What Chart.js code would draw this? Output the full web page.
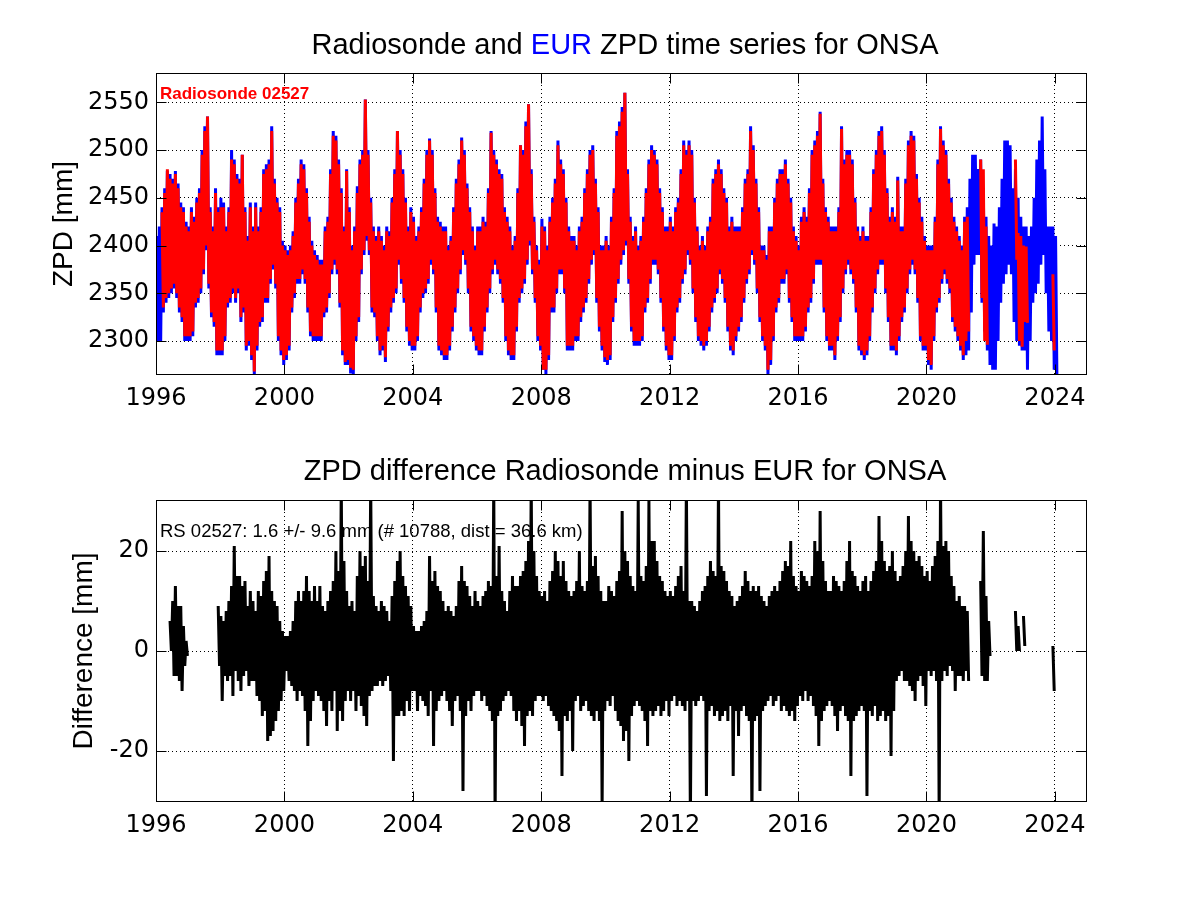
<!DOCTYPE html>
<html>
<head>
<meta charset="utf-8">
<title>ONSA ZPD</title>
<script src="https://cdn.jsdelivr.net/npm/chart.js@4.4.1/dist/chart.umd.min.js"></script>
<style>
  body { margin: 0; background: #fff; }
  #wrap { position: relative; width: 1201px; height: 901px; overflow: hidden; }
  canvas { position: absolute; left: 0; }
  #top { top: 0; }
  #bottom { top: 450px; }
  .ttl {
    position: absolute; left: 0; width: 1250px; text-align: center;
    font-family: "Liberation Sans", Arial, sans-serif; font-size: 29px;
    line-height: 1; color: #000; white-space: nowrap;
  }
</style>
</head>
<body>
<div id="wrap">
  <canvas id="top" width="1201" height="450"></canvas>
  <canvas id="bottom" width="1201" height="451"></canvas>
  <div class="ttl" style="top:30px">Radiosonde and <span style="color:#0000ff">EUR</span> ZPD time series for ONSA</div>
  <div class="ttl" style="top:456px">ZPD difference Radiosonde minus EUR for ONSA</div>
</div>
<script>
"use strict";
const N = null;

const firstYear = 1996; // first row = Jan 1996, one value per month
const xTicks = [1996, 2000, 2004, 2008, 2012, 2016, 2020, 2024];
const zpdTicks = [2300, 2350, 2400, 2450, 2500, 2550];
const diffTicks = [-20, 0, 20];

// EUR ZPD, monthly upper / lower envelope [mm]
const eurHi = [
  2410,2420,2440,2460,2478,2475,2470,2478,2465,2445,2440,2425, // 1996
  2420,2440,2430,2450,2460,2500,2525,2535,2440,2420,2460,2440,
  2450,2445,2420,2440,2500,2490,2475,2470,2495,2440,2410,2445,
  2420,2445,2420,2440,2480,2485,2490,2525,2470,2450,2440,2405,
  2400,2395,2400,2415,2450,2470,2490,2485,2460,2430,2405,2395, // 2000
  2390,2385,2385,2420,2430,2480,2520,2515,2490,2460,2420,2480,
  2440,2400,2420,2462,2490,2500,2553,2500,2450,2420,2410,2420,
  2410,2400,2420,2415,2450,2480,2520,2500,2480,2450,2420,2440,
  2430,2410,2420,2440,2470,2500,2512,2500,2460,2430,2425,2420, // 2004
  2420,2400,2410,2440,2470,2490,2513,2500,2465,2440,2420,2400,
  2420,2420,2430,2425,2460,2520,2500,2490,2480,2475,2440,2430,
  2420,2400,2410,2460,2505,2500,2530,2548,2480,2430,2400,2385,
  2428,2420,2400,2430,2450,2470,2510,2490,2480,2450,2420,2410, // 2008
  2410,2400,2420,2430,2460,2480,2500,2505,2470,2440,2400,2400,
  2410,2400,2430,2460,2520,2530,2545,2560,2480,2430,2410,2420,
  2400,2410,2430,2460,2490,2505,2500,2490,2460,2440,2420,2420,
  2430,2420,2440,2450,2480,2510,2500,2510,2500,2450,2420,2400, // 2012
  2410,2400,2420,2430,2470,2480,2490,2480,2460,2450,2420,2430,
  2420,2420,2420,2440,2470,2480,2525,2505,2470,2440,2400,2400,
  2390,2420,2420,2450,2470,2480,2480,2490,2470,2450,2420,2410,
  2400,2430,2440,2430,2460,2500,2510,2520,2540,2470,2440,2430, // 2016
  2420,2420,2420,2440,2525,2490,2500,2500,2490,2450,2420,2410,
  2420,2410,2410,2440,2480,2500,2520,2525,2500,2460,2430,2440,
  2430,2472,2420,2420,2470,2510,2520,2515,2475,2450,2430,2410,
  2400,2400,2400,2430,2490,2525,2510,2500,2470,2450,2430,2420, // 2020
  2410,2400,2430,2440,2470,2495,2495,2480,2490,2460,2430,2410,
  2400,2423,2420,2440,2470,2510,2510,2505,2460,2480,2450,2430,
  2420,2420,2410,2420,2450,2490,2510,2535,2480,2420,2420,2420,
  2410 // 2024
];
const eurLo = [
  2300,2300,2330,2340,2345,2350,2355,2345,2330,2320,2300,2300, // 1996
  2300,2305,2335,2340,2350,2370,2395,2355,2325,2315,2285,2285,
  2285,2300,2335,2340,2350,2340,2350,2320,2330,2290,2295,2280,
  2265,2290,2315,2320,2340,2340,2360,2375,2355,2300,2285,2275,
  2280,2290,2330,2345,2360,2360,2370,2360,2330,2305,2300,2300, // 2000
  2300,2300,2325,2330,2345,2370,2380,2370,2335,2285,2275,2275,
  2266,2265,2300,2320,2370,2390,2405,2390,2330,2325,2300,2285,
  2290,2278,2310,2330,2340,2350,2380,2360,2340,2310,2295,2290,
  2290,2300,2330,2345,2350,2360,2380,2370,2330,2290,2285,2280, // 2004
  2280,2290,2310,2330,2350,2370,2390,2380,2350,2310,2300,2290,
  2285,2285,2310,2330,2350,2370,2380,2370,2360,2340,2300,2285,
  2280,2280,2310,2340,2350,2360,2380,2400,2370,2340,2300,2290,
  2270,2265,2280,2330,2330,2350,2370,2370,2350,2290,2290,2290, // 2008
  2300,2300,2320,2330,2340,2360,2380,2390,2340,2310,2290,2278,
  2275,2280,2320,2340,2360,2380,2390,2400,2360,2310,2295,2295,
  2295,2300,2330,2340,2360,2380,2380,2370,2340,2310,2290,2280,
  2280,2300,2330,2340,2360,2370,2390,2380,2350,2320,2300,2295, // 2012
  2290,2295,2310,2330,2340,2350,2370,2360,2340,2310,2290,2285,
  2300,2310,2320,2340,2360,2370,2390,2380,2350,2320,2300,2290,
  2264,2275,2300,2330,2340,2360,2360,2370,2340,2320,2300,2300,
  2300,2300,2310,2330,2340,2360,2380,2380,2380,2330,2300,2290, // 2016
  2290,2280,2300,2320,2350,2370,2380,2370,2360,2330,2290,2285,
  2280,2285,2300,2330,2350,2370,2380,2380,2350,2320,2290,2290,
  2285,2300,2320,2330,2350,2370,2380,2370,2340,2300,2290,2290,
  2275,2270,2300,2330,2340,2360,2370,2360,2350,2320,2310,2300, // 2020
  2290,2280,2285,2290,2330,2380,2390,2390,2340,2310,2290,2275,
  2270,2270,2300,2340,2360,2370,2380,2370,2320,2300,2295,2290,
  2290,2270,2300,2340,2350,2360,2380,2390,2350,2310,2300,2270,
  2262 // 2024
];

// Radiosonde 02527 ZPD, monthly upper / lower envelope [mm]
const rsHi = [
  N,N,2435,2455,2480,2470,2465,2475,2460,2440,2435,2420, // 1996
  2415,2435,2425,2445,2455,2495,2520,2535,2435,2415,2455,2435,
  2440,2440,2415,2435,2490,2485,2470,2465,2495,2435,2405,2440,
  2415,2440,2415,2435,2475,2480,2485,2520,2465,2445,2435,2400,
  2395,2390,2395,2410,2445,2465,2485,2480,2455,2425,2400,2390, // 2000
  2385,2380,2380,2415,2425,2475,2515,2510,2485,2455,2415,2478,
  2435,2395,2415,2455,2485,2495,2553,2495,2445,2415,2405,2415,
  2405,2395,2415,2410,2445,2475,2520,2495,2475,2445,2415,2435,
  2425,2405,2415,2435,2465,2495,2510,2495,2455,2425,2420,2415, // 2004
  2415,2395,2405,2435,2465,2485,2510,2495,2460,2435,2415,2395,
  2415,2415,2425,2420,2455,2518,2495,2485,2475,2470,2435,2425,
  2415,2395,2405,2455,2505,2495,2525,2548,2475,2425,2395,2380,
  2420,2415,2395,2425,2445,2465,2505,2485,2475,2445,2415,2405, // 2008
  2405,2395,2415,2425,2455,2475,2495,2500,2465,2435,2395,2395,
  2405,2395,2425,2455,2515,2525,2540,2560,2475,2425,2405,2415,
  2395,2405,2425,2455,2485,2500,2495,2485,2455,2435,2415,2415,
  2425,2415,2435,2445,2475,2505,2495,2505,2495,2445,2415,2395, // 2012
  2405,2395,2415,2425,2465,2475,2485,2475,2455,2445,2415,2425,
  2415,2415,2415,2435,2465,2475,2520,2500,2465,2435,2395,2395,
  2385,2415,2415,2445,2465,2475,2475,2485,2465,2445,2415,2405,
  2395,2425,2435,2425,2455,2495,2505,2515,2538,2465,2435,2425, // 2016
  2415,2415,2415,2435,2522,2485,2495,2495,2485,2445,2415,2405,
  2415,2405,2405,2435,2475,2495,2515,2520,2495,2455,2425,2435,
  2425,2468,2415,2415,2465,2505,2515,2510,2470,2445,2425,2405,
  2395,2395,2395,2425,2485,2522,2505,2495,2465,2445,2425,2415, // 2020
  2405,2395,2425,2430,N,N,N,N,2490,2480,2420,N,
  N,N,N,N,N,N,N,N,N,2490,2413,2410,
  2400,2399,N,N,N,N,N,N,N,N,N,2370,
  N // 2024
];
const rsLo = [
  N,N,2335,2345,2350,2355,2360,2350,2335,2325,2305,2305, // 1996
  2305,2310,2340,2345,2355,2375,2400,2360,2330,2320,2290,2290,
  2290,2305,2340,2345,2355,2345,2355,2325,2335,2295,2300,2285,
  2268,2295,2320,2325,2345,2345,2365,2380,2360,2305,2290,2280,
  2285,2295,2335,2350,2365,2365,2375,2365,2335,2310,2305,2305, // 2000
  2305,2305,2330,2335,2350,2375,2385,2375,2340,2290,2278,2280,
  2272,2270,2305,2325,2375,2395,2410,2395,2335,2330,2305,2290,
  2295,2283,2315,2335,2345,2355,2385,2365,2345,2315,2300,2295,
  2295,2305,2335,2350,2355,2365,2385,2375,2335,2295,2290,2285, // 2004
  2285,2295,2315,2335,2355,2375,2395,2385,2355,2315,2305,2295,
  2290,2290,2315,2335,2355,2375,2385,2375,2365,2345,2305,2290,
  2285,2285,2315,2345,2355,2365,2385,2405,2375,2345,2305,2295,
  2270,2270,2285,2335,2335,2355,2375,2375,2355,2295,2295,2295, // 2008
  2305,2305,2325,2335,2345,2365,2385,2395,2345,2315,2295,2283,
  2280,2285,2325,2345,2365,2385,2395,2405,2365,2315,2300,2300,
  2300,2305,2335,2345,2365,2385,2385,2375,2345,2315,2295,2285,
  2285,2305,2335,2345,2365,2375,2395,2385,2355,2325,2305,2300, // 2012
  2295,2300,2315,2335,2345,2355,2375,2365,2345,2315,2295,2290,
  2305,2315,2325,2345,2365,2375,2395,2385,2355,2325,2305,2295,
  2270,2280,2305,2335,2345,2365,2365,2375,2345,2325,2305,2305,
  2305,2305,2315,2335,2345,2365,2385,2385,2385,2335,2305,2295, // 2016
  2295,2285,2305,2325,2355,2375,2385,2375,2365,2335,2295,2290,
  2285,2290,2305,2335,2355,2375,2385,2385,2355,2325,2295,2295,
  2290,2305,2325,2335,2355,2375,2385,2375,2345,2305,2295,2295,
  2280,2275,2305,2335,2345,2365,2375,2365,2355,2325,2315,2305, // 2020
  2295,2285,2300,2310,N,N,N,N,2345,2300,2296,N,
  N,N,N,N,N,N,N,N,N,2385,2300,2294,
  2320,2319,N,N,N,N,N,N,N,N,N,2290,
  N // 2024
];

// Radiosonde minus EUR, monthly upper / lower envelope [mm]
const diffHi = [
  N,N,N,N,N,6,10,13,9,9,5,2, // 1996
  N,N,N,N,N,N,N,N,N,N,N,9,
  7,6,8,10,13,21,15,15,13,14,9,12,
  10,8,12,11,14,16,19,12,10,9,6,4,
  3,3,4,6,10,12,10,12,15,12,10,13, // 2000
  10,13,9,8,10,12,14,20,16,34,18,12,
  9,10,8,15,20,17,19,14,34,11,9,8,
  10,9,8,6,11,14,18,20,15,13,11,9,
  5,4,4,5,6,8,19,14,16,13,12,10, // 2004
  8,9,8,7,9,14,17,14,13,11,9,12,
  10,9,11,12,14,13,34,15,21,12,10,8,
  12,15,13,13,15,16,18,22,34,20,15,12,
  11,12,10,14,16,20,18,15,18,14,12,11, // 2008
  12,14,20,13,12,14,34,17,19,15,12,10,
  10,13,12,11,14,16,28,20,18,15,13,12,
  30,15,14,17,30,22,22,18,15,14,12,11,
  12,11,13,15,17,12,34,10,10,9,8,10, // 2012
  12,13,15,18,16,15,34,17,16,14,12,11,
  9,10,11,13,16,14,12,13,12,13,11,10,
  9,11,12,13,12,14,16,18,17,22,15,13,
  12,16,15,14,13,15,22,20,28,18,14,12, // 2016
  12,15,14,13,12,14,18,22,16,15,13,12,
  14,15,12,14,16,18,27,22,18,16,17,20,
  16,14,15,17,20,27,22,20,18,19,17,15,
  16,14,17,19,22,34,21,22,20,15,13,10, // 2020
  11,9,9,8,N,N,N,N,14,24,11,6,
  N,N,N,N,N,N,N,N,N,8,5,N,
  7,N,N,N,N,N,N,N,N,N,N,1,
  N // 2024
];
const diffLo = [
  N,N,N,N,N,0,-5,-5,-6,-8,-3,-1, // 1996
  N,N,N,N,N,N,N,N,N,N,N,-3,
  -10,-5,-6,-5,-9,-4,-6,-8,-5,-4,-7,-6,
  -6,-9,-10,-13,-12,-18,-17,-16,-14,-12,-10,-8,
  -4,-6,-7,-8,-10,-8,-9,-12,-19,-14,-10,-8, // 2000
  -9,-10,-12,-15,-10,-12,-8,-16,-12,-14,-10,-8,
  -10,-8,-12,-9,-11,-13,-15,-9,-8,-7,-7,-6,
  -7,-6,-5,-8,-22,-13,-13,-12,-13,-10,-12,-8,
  -8,-12,-9,-10,-11,-13,-8,-19,-12,-10,-9,-8, // 2004
  -10,-12,-15,-10,-9,-12,-28,-13,-10,-12,-9,-8,
  -8,-10,-9,-11,-12,-14,-34,-13,-12,-10,-9,-8,
  -9,-12,-14,-12,-15,-19,-13,-12,-13,-10,-9,-9,
  -10,-9,-11,-12,-13,-14,-16,-25,-13,-14,-12,-20, // 2008
  -10,-9,-12,-11,-10,-12,-13,-14,-12,-14,-31,-12,
  -10,-11,-9,-12,-14,-15,-18,-16,-22,-13,-11,-10,
  -11,-12,-14,-19,-12,-13,-12,-11,-13,-12,-10,-13,
  -10,-9,-11,-10,-11,-12,-10,-34,-10,-11,-10,-9, // 2012
  -10,-29,-12,-11,-13,-12,-14,-13,-12,-14,-11,-25,
  -12,-17,-12,-11,-13,-14,-34,-14,-13,-28,-12,-11,
  -10,-9,-11,-10,-9,-12,-11,-12,-13,-12,-14,-11,
  -9,-10,-8,-10,-9,-11,-13,-19,-14,-12,-11,-10, // 2016
  -11,-13,-16,-12,-11,-13,-14,-25,-14,-13,-12,-11,
  -12,-29,-12,-13,-11,-14,-13,-12,-14,-13,-21,-12,
  -6,-5,-4,-6,-6,-7,-8,-10,-6,-5,-7,-11,
  -4,-5,-4,-6,-34,-6,-4,-5,-3,-4,-8,-5, // 2020
  -5,-6,-4,-6,N,N,N,N,-5,-6,-6,-1,
  N,N,N,N,N,N,N,N,N,0,0,N,
  1,N,N,N,N,N,N,N,N,N,N,-8,
  N // 2024
];

// each month becomes an upper and a lower point, so the dense series fills its band
function zigzag(hi, lo) {
  let pts = [];
  for (let i = 0; i < hi.length; i++) {
    let t = firstYear + i / 12;
    if (hi[i] === null) {
      pts.push({ x: t + 0.5 / 12, y: null });
      continue;
    }
    pts.push({ x: t + 0.25 / 12, y: hi[i] });
    pts.push({ x: t + 0.75 / 12, y: lo[i] });
  }
  return pts;
}

const tickFont = { family: "'DejaVu Sans', sans-serif", size: 24, lineHeight: 1.2 };
const titleFont = { family: "'Liberation Sans', Arial, sans-serif", size: 28, lineHeight: 1.2 };

const notePlugin = {
  id: "note",
  beforeDatasetsDraw(chart, args, opts) {
    let a = chart.chartArea;
    let ctx = chart.ctx;
    ctx.save();
    ctx.font = opts.textFont;
    ctx.fillStyle = opts.textColor;
    ctx.textAlign = "left";
    ctx.textBaseline = "alphabetic";
    ctx.fillText(opts.text, a.left + opts.dx, a.top + opts.dy);
    ctx.restore();
  },
};

// axes box with short inward ticks on all four sides
const boxPlugin = {
  id: "box",
  afterDatasetsDraw(chart) {
    let { ctx, chartArea: a, scales } = chart;
    let L = Math.round(a.left) + 0.5;
    let R = Math.round(a.right) - 0.5;
    let T = Math.round(a.top) + 0.5;
    let B = Math.round(a.bottom) - 0.5;
    ctx.save();
    ctx.strokeStyle = "#000";
    ctx.lineWidth = 1;
    ctx.setLineDash([]);
    ctx.beginPath();
    scales.x.ticks.forEach((t) => {
      let px = Math.round(scales.x.getPixelForValue(t.value)) + 0.5;
      ctx.moveTo(px, B);
      ctx.lineTo(px, B - 10);
      ctx.moveTo(px, T);
      ctx.lineTo(px, T + 10);
    });
    scales.y.ticks.forEach((t) => {
      let py = Math.round(scales.y.getPixelForValue(t.value)) + 0.5;
      ctx.moveTo(L, py);
      ctx.lineTo(L + 10, py);
      ctx.moveTo(R, py);
      ctx.lineTo(R - 10, py);
    });
    ctx.stroke();
    ctx.strokeRect(L, T, R - L, B - T);
    ctx.restore();
  },
};

function line(data, color, order) {
  return {
    data: data,
    borderColor: color,
    backgroundColor: color,
    borderWidth: 3,
    borderJoinStyle: "bevel",
    pointRadius: 0,
    tension: 0,
    fill: false,
    spanGaps: false,
    clip: 0,
    order: order,
  };
}

function chart(id, cfg) {
  return new Chart(document.getElementById(id), {
    type: "line",
    data: { datasets: cfg.datasets },
    plugins: [notePlugin, boxPlugin],
    options: {
      responsive: false,
      animation: false,
      devicePixelRatio: 1,
      events: [],
      layout: { padding: { left: 0, right: 114, top: cfg.padTop, bottom: 0 } },
      plugins: {
        legend: { display: false },
        tooltip: { enabled: false },
        note: cfg.note,
      },
      scales: {
        x: {
          type: "linear",
          min: 1996,
          max: 2025,
          afterBuildTicks: (s) => { s.ticks = xTicks.map((v) => ({ value: v })); },
          afterFit: (s) => { s.height = cfg.xAxisH; },
          grid: { color: "#000", lineWidth: 1, drawTicks: false },
          border: { display: false, dash: [1, 3] },
          ticks: { font: tickFont, color: "#000", padding: 9, maxRotation: 0, autoSkip: false, callback: (v) => String(v) },
        },
        y: {
          type: "linear",
          min: cfg.yMin,
          max: cfg.yMax,
          afterBuildTicks: (s) => { s.ticks = cfg.yTicks.map((v) => ({ value: v })); },
          afterFit: (s) => { s.width = 156; },
          grid: { color: "#000", lineWidth: 1, drawTicks: false },
          border: { display: false, dash: [1, 3] },
          ticks: { font: tickFont, color: "#000", padding: 7, autoSkip: false, callback: (v) => String(v) },
          title: { display: true, text: cfg.yTitle, font: titleFont, color: "#000", padding: { top: cfg.yTitlePad, bottom: 0 } },
        },
      },
    },
  });
}

chart("top", {
  datasets: [line(zigzag(rsHi, rsLo), "#ff0000", 0), line(zigzag(eurHi, eurLo), "#0000ff", 1)],
  yMin: 2264.4,
  yMax: 2580.7,
  yTicks: zpdTicks,
  yTitle: "ZPD [mm]",
  yTitlePad: 47,
  padTop: 73,
  xAxisH: 75,
  note: { text: "Radiosonde 02527", textFont: "bold 17px 'Liberation Sans', Arial, sans-serif", textColor: "#ff0000", dx: 4, dy: 26 },
});

chart("bottom", {
  datasets: [line(zigzag(diffHi, diffLo), "#000000", 0)],
  yMin: -30.2,
  yMax: 30.2,
  yTicks: diffTicks,
  yTitle: "Difference [mm]",
  yTitlePad: 67,
  padTop: 50,
  xAxisH: 99,
  note: { text: "RS 02527: 1.6 +/- 9.6 mm (# 10788, dist = 36.6 km)", textFont: "18.5px 'Liberation Sans', Arial, sans-serif", textColor: "#000", dx: 4, dy: 37 },
});
</script>
</body>
</html>
